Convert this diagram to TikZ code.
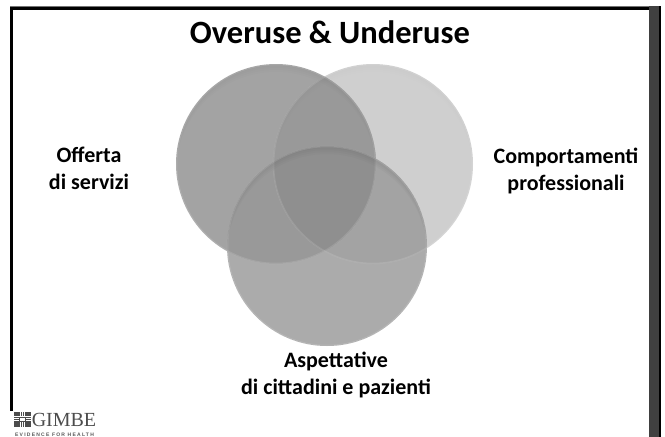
\documentclass[tikz,border=0pt]{standalone}
\usepackage{fontspec}
\setmainfont{Carlito}
\newfontfamily\logofont{Liberation Serif}
\newfontfamily\tagfont[LetterSpace=25]{Liberation Sans}
\definecolor{bandgray}{gray}{0.25}
\tikzset{
  label/.style={font=\fontsize{22}{27}\selectfont\bfseries, align=center, text=black},
  disc/.style={shape=circle, minimum size=200pt, inner sep=0pt},
}
% overlap of two discs, named by their nodes
\newcommand{\lens}[3]{\begin{scope}\clip (#1.center) circle (100pt); \fill[#3] (#2.center) circle (100pt);\end{scope}}
% soft darker crescent along the top of a disc
\newcommand{\rim}[2]{\begin{scope}\clip (#1.center) circle (100pt);
  \foreach \d in {2,4,6,8}
    \fill[black, opacity=#2, even odd rule] (#1.center) circle (100pt) ([yshift=-\d pt]#1.center) circle (100pt);
  \end{scope}
  \draw[white, opacity=.12, line width=1.5pt] (#1.center) circle (99.5pt);}
\begin{document}
\begin{tikzpicture}[x=1pt,y=-1pt]
  \useasboundingbox (0,0) rectangle (665,437);
  % frame
  \fill[white] (0,0) rectangle (665,437);
  \fill[black!55] (10,6) rectangle (661,7);
  \fill[black] (10,7) rectangle (661,9.5);
  \fill[black] (10,7) rectangle (12.7,411);
  \fill[bandgray] (649,6) rectangle (659,437);
  \fill[black] (659,6) rectangle (661,437);
  % circles
  \node[disc, fill=black!19] (right) at (373,164) {};
  \node[disc, fill=black!36] (left) at (276,164) {};
  \node[disc, fill=black!33] (bottom) at (327,246) {};
  \lens{left}{right}{black!40}
  \lens{left}{bottom}{black!40}
  \lens{right}{bottom}{black!36}
  \begin{scope}
    \clip (left.center) circle (100pt);
    \clip (right.center) circle (100pt);
    \fill[black!44] (bottom.center) circle (100pt);
  \end{scope}
  \rim{right}{.004}
  \rim{left}{.008}
  \rim{bottom}{.018}
  % texts
  \node[label, font=\fontsize{32.5}{36}\selectfont\bfseries] (title) at (330,32) {Overuse \& Underuse};
  \node[label] (offerta) at (89,168) {Offerta\\di servizi};
  \node[label] (comport) at (566,171) {Comportamenti\\professionali};
  \node[label] (aspett) at (336,375) {Aspettative\\di cittadini e pazienti};
  % logo
  \node[inner sep=0pt, font=\logofont\fontsize{20}{20}\selectfont, text=black!70] (gimbe) at (64,420) {GIMBE};
  \node[inner sep=0pt, font=\tagfont\bfseries\fontsize{5}{5}\selectfont, text=black!65] (tagline) at (54.5,434.5) {EVIDENCE FOR HEALTH};
  \foreach \i in {0,...,7}
    \foreach \j in {0,...,6}
      \fill[black!70] (14+2.2*\i,412.2+2.2*\j) rectangle ++(1.6,1.6);
  \node[shape=rectangle, minimum width=6pt, minimum height=4pt, inner sep=0pt, fill=white, draw=black!70] (icon) at (22.5,419.5) {};
\end{tikzpicture}
\end{document}
